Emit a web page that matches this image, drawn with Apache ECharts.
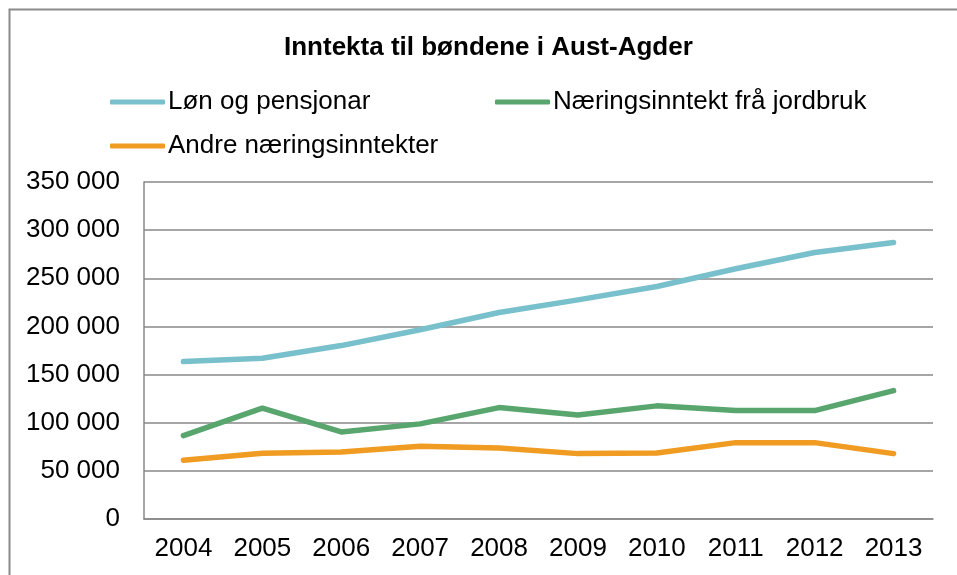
<!DOCTYPE html>
<html>
<head>
<meta charset="utf-8">
<script src="https://cdn.jsdelivr.net/npm/echarts@6/dist/echarts.min.js"></script>
<style>
  html, body { margin: 0; padding: 0; background: #fff; }
  #main { width: 957px; height: 575px; }
</style>
</head>
<body>
<div id="main"></div>
<script>
// data
var years = ['2004', '2005', '2006', '2007', '2008', '2009', '2010', '2011', '2012', '2013']
var lonPensjon = [163500, 167000, 180100, 196500, 214500, 227600, 241500, 259900, 276800, 287200]
var jordbruk = [86600, 115100, 90400, 98800, 115700, 108100, 117500, 112600, 112600, 133400]
var andre = [61000, 68300, 69600, 75600, 73800, 67900, 68600, 79300, 79300, 67900]
var names = ['Løn og pensjonar', 'Næringsinntekt frå jordbruk', 'Andre næringsinntekter']
var colors = ['#78c0cb', '#58a66d', '#f09b22']

var font = 'Liberation Sans, Arial, sans-serif'
var chart = echarts.init(document.getElementById('main'))

function legendFor(name, left, top) {
  return {
    data: [name],
    left: left,
    top: top,
    icon: 'roundRect',
    itemWidth: 55,
    itemHeight: 5,
    itemGap: 0,
    textStyle: { fontFamily: font, fontSize: 26, color: '#000', padding: [0, 0, 0, -2] }
  }
}

function lineSeries(name, data, color) {
  return {
    name: name,
    type: 'line',
    data: data,
    symbol: 'none',
    smooth: false,
    lineStyle: { width: 5.5, color: color, cap: 'round', join: 'round' },
    itemStyle: { color: color }
  }
}

var option = {
  animation: false,
  title: {
    text: 'Inntekta til bøndene i Aust-Agder',
    left: 279,
    top: 30,
    textStyle: { fontFamily: font, fontSize: 26, fontWeight: 'bold', color: '#000' }
  },
  legend: [
    legendFor(names[0], 105, 84),
    legendFor(names[1], 490, 84),
    legendFor(names[2], 105, 128)
  ],
  graphic: [{
    type: 'rect',
    left: 7,
    top: 7,
    shape: { width: 980, height: 600 },
    style: { fill: 'none', stroke: '#8a8a8a', lineWidth: 2 }
  }],
  grid: { left: 144, right: 24, top: 182, bottom: 56 },
  xAxis: {
    type: 'category',
    data: years,
    boundaryGap: true,
    axisLine: { lineStyle: { color: '#888', width: 1.5 } },
    axisTick: { show: false },
    axisLabel: { fontFamily: font, fontSize: 26, color: '#000', margin: 17 }
  },
  yAxis: {
    type: 'value',
    min: 0,
    max: 350000,
    interval: 50000,
    axisLine: { show: true, lineStyle: { color: '#888', width: 1.5 } },
    axisTick: { show: false },
    splitLine: { lineStyle: { color: '#888', width: 1.5 } },
    axisLabel: {
      fontFamily: font, fontSize: 26, color: '#000', margin: 24,
      formatter: function (v) { return String(v).replace(/\B(?=(\d{3})+(?!\d))/g, ' ') }
    }
  },
  series: [
    lineSeries(names[0], lonPensjon, colors[0]),
    lineSeries(names[1], jordbruk, colors[1]),
    lineSeries(names[2], andre, colors[2])
  ]
}
option && chart.setOption(option)
</script>
</body>
</html>
